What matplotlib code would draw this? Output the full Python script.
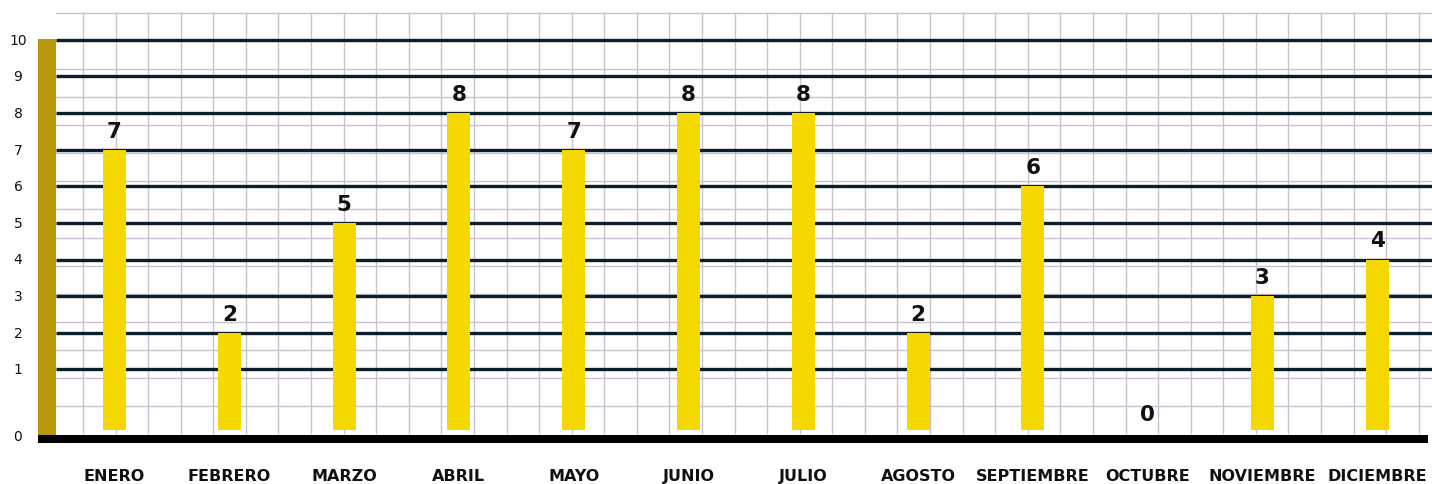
import matplotlib
matplotlib.use("Agg")
import matplotlib.pyplot as plt
import numpy as np

months = ["ENERO", "FEBRERO", "MARZO", "ABRIL", "MAYO", "JUNIO", "JULIO",
          "AGOSTO", "SEPTIEMBRE", "OCTUBRE", "NOVIEMBRE", "DICIEMBRE"]
values = [7, 2, 5, 8, 7, 8, 8, 2, 6, 0, 3, 4]
y_ticks = [1, 2, 3, 4, 5, 6, 7, 8, 9, 10]

W, H = 1432, 485
fig = plt.figure(figsize=(W / 100, H / 100), dpi=100)
ax = fig.add_axes([0, 0, 1, 1])

# pixel <-> data helpers (layout only)
X0, XS = 114.5, 114.8
Y0, YS = 406.9, 36.6
def dx(p): return (p - X0) / XS
def dy(p): return (Y0 - p) / YS

ax.set_xlim(dx(0), dx(W))
ax.set_ylim(dy(H), dy(0))
ax.axis("off")

grid_c = "#c9c1cf"
dark = "#0c1e2c"
gold = "#b8970a"
yellow = "#f5d800"

# background grid
for k in range(15):
    yp = 14 + 28.07 * k
    ax.plot([dx(56), dx(W)], [dy(yp), dy(yp)], color=grid_c, lw=1.0, zorder=1)
for k in range(42):
    xp = 83 + 32.58 * k
    ax.plot([dx(xp), dx(xp)], [dy(14), dy(434)], color=grid_c, lw=1.0, zorder=1)

# value lines
for v in y_ticks:
    ax.plot([dx(56), dx(W)], [v, v], color=dark, lw=2.4, zorder=2, solid_capstyle="butt")

# left gold bar and bottom baseline
ax.fill_between([dx(38), dx(56)], dy(436), dy(40), color=gold, lw=0, zorder=3)
ax.fill_between([dx(38), dx(1428)], dy(444), dy(436), color="black", lw=0, zorder=3)

bar_bottom = dy(430.7)
x = np.arange(len(months))
heights = [v - bar_bottom if v > 0 else 0 for v in values]
ax.bar(x, heights, bottom=bar_bottom, width=0.2, color=yellow, zorder=4)

for xi, v in zip(x, values):
    if v > 0:
        ty = v + 0.25
    else:
        ty = bar_bottom + 0.16
    ax.text(xi, ty, str(v), ha="center", va="bottom", fontsize=15.5,
            fontweight="bold", color="#111111", family="DejaVu Sans", zorder=5)

# y tick labels
for v in y_ticks:
    ax.text(dx(18), v, str(v), ha="center", va="center", fontsize=10,
            color="#111111", family="DejaVu Sans")
ax.text(dx(18), dy(437), "0", ha="center", va="center", fontsize=10,
        color="#111111", family="DejaVu Sans")

# month labels
for xi, m in zip(x, months):
    ax.text(xi, dy(477), m, ha="center", va="center", fontsize=11.5,
            fontweight="bold", color="#111111", family="DejaVu Sans")

fig.savefig("out.png", dpi=100, facecolor="white")
